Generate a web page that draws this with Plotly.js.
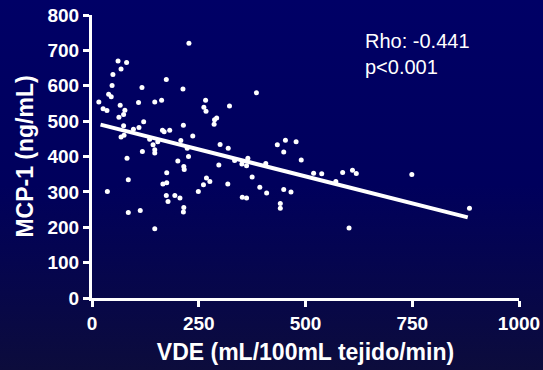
<!DOCTYPE html>
<html>
<head>
<meta charset="utf-8">
<script src="https://cdn.plot.ly/plotly-3.0.1.min.js"></script>
<style>
  html, body { margin: 0; padding: 0; }
  body { width: 543px; height: 370px; overflow: hidden;
         background: linear-gradient(to bottom, #000066 0%, #00005c 50%, #0c0c3c 100%); }
  #chart { width: 543px; height: 370px; }
</style>
</head>
<body>
<div id="chart"></div>
<script>
// VDE (mL/100mL tejido/min)
const vde = [16, 26, 35, 36, 39, 45, 47, 49, 61, 68, 81, 63, 66, 74, 77, 68, 74, 75, 82, 85,
  85, 97, 109, 110, 117, 121, 118, 113, 135, 143, 147, 147, 147, 147, 154, 163, 165, 169, 174, 175,
  166, 175, 174, 178, 182, 194, 201, 206, 208, 213, 214, 214, 215, 215, 216, 227, 223, 226, 236, 249,
  261, 262, 266, 267, 268, 276, 286, 287, 292, 297, 300, 319, 318, 322, 334, 351, 352, 362, 362, 365,
  375, 385, 393, 407, 409, 434, 441, 441, 449, 453, 449, 466, 478, 490, 519, 538, 571, 587, 602, 610,
  619, 749, 884];
// MCP-1 (ng/mL)
const mcp1 = [554, 535, 530, 301, 576, 569, 601, 632, 670, 647, 666, 511, 545, 519, 531, 455, 487, 460, 395, 334,
  242, 477, 553, 482, 595, 498, 414, 247, 449, 433, 554, 419, 410, 196, 442, 559, 474, 470, 618, 354,
  322, 326, 290, 273, 474, 290, 387, 283, 445, 591, 488, 243, 256, 372, 363, 720, 423, 400, 458, 301,
  320, 539, 559, 528, 339, 329, 491, 504, 509, 376, 434, 423, 322, 543, 389, 379, 285, 283, 374, 395,
  342, 580, 313, 380, 297, 433, 267, 254, 413, 446, 307, 300, 442, 390, 353, 351, 329, 355, 198, 361,
  352, 349, 254];
// Regression line end points
const regX = [20, 880];
const regY = [490, 228];
const xTicks = [0, 250, 500, 750, 1000];
const yTicks = [0, 100, 200, 300, 400, 500, 600, 700, 800];
const statLines = ["Rho: -0.441", "p<0.001"];

const FONT = '"Liberation Sans", Arial, sans-serif';

const traces = [
  { x: regX, y: regY, mode: 'lines', type: 'scatter',
    line: { color: '#ffffff', width: 4 }, hoverinfo: 'skip' },
  { x: vde, y: mcp1, mode: 'markers', type: 'scatter',
    marker: { color: '#ffffff', size: 5 }, cliponaxis: false }
];

const axisCommon = {
  showline: true, linecolor: '#ffffff', linewidth: 3,
  ticks: 'outside', ticklen: 6, tickwidth: 3, tickcolor: '#ffffff',
  showgrid: false, zeroline: false,
  tickfont: { family: FONT, size: 19, color: '#ffffff', weight: 'bold' },
  fixedrange: true
};

const layout = {
  width: 543, height: 370,
  margin: { l: 92, r: 24, t: 15, b: 72 },
  paper_bgcolor: 'rgba(0,0,0,0)',
  plot_bgcolor: 'rgba(0,0,0,0)',
  showlegend: false,
  xaxis: Object.assign({}, axisCommon, {
    range: [0, 1000], tickvals: xTicks, ticktext: xTicks.map(String),
    title: { text: 'VDE (mL/100mL tejido/min)', standoff: 12,
             font: { family: FONT, size: 23, color: '#ffffff', weight: 'bold' } }
  }),
  yaxis: Object.assign({}, axisCommon, {
    range: [0, 800], tickvals: yTicks, ticktext: yTicks.map(String),
    title: { text: 'MCP-1 (ng/mL)', standoff: 8,
             font: { family: FONT, size: 23, color: '#ffffff', weight: 'bold' } }
  }),
  annotations: [{
    xref: 'paper', yref: 'paper', x: 0.635, y: 0.955,
    xanchor: 'left', yanchor: 'top', align: 'left', showarrow: false,
    text: statLines.join('<br>'),
    font: { family: FONT, size: 20, color: '#ffffff' }
  }]
};

Plotly.newPlot('chart', traces, layout, { staticPlot: true, displayModeBar: false });
</script>
</body>
</html>
